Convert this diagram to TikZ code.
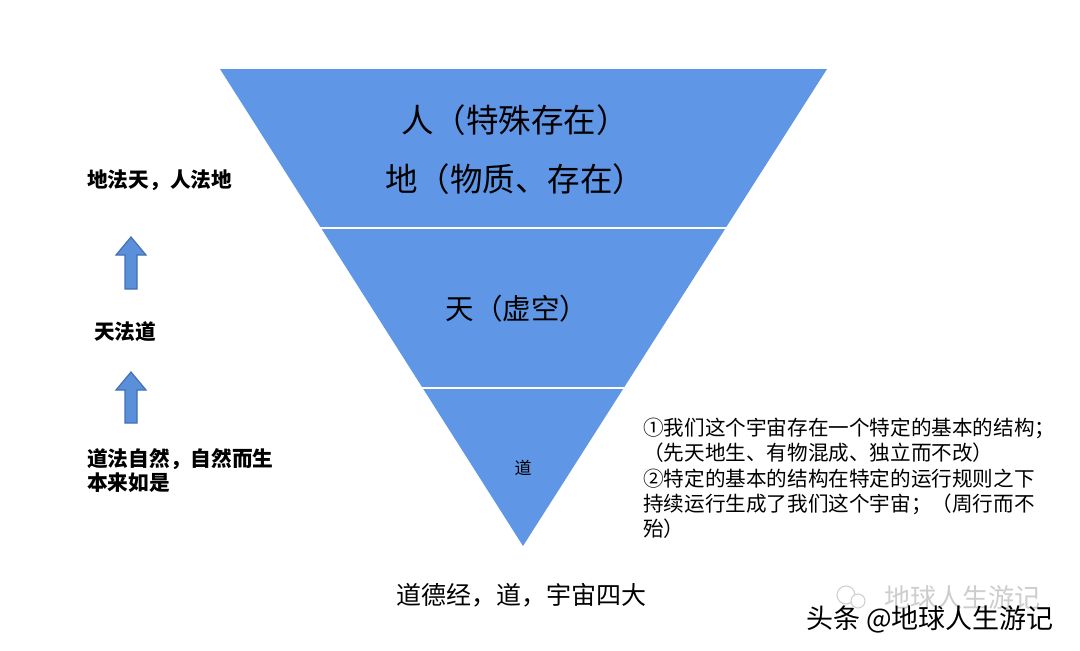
\documentclass[tikz,border=0pt]{standalone}
\usepackage{fontspec}
\setmainfont{Noto Sans CJK SC}
\newfontfamily\cjk{Noto Sans CJK SC}
\definecolor{tri}{RGB}{96,150,230}
\definecolor{arrfill}{RGB}{91,143,218}
\definecolor{arrline}{RGB}{65,113,180}
\definecolor{wmgray}{RGB}{205,205,205}
\begin{document}
\begin{tikzpicture}[x=1pt,y=-1pt,
  lbl/.style={inner sep=0pt,font=\cjk},
  side/.style={inner sep=0pt,anchor=west,font=\cjk\bfseries\fontsize{20.7}{24}\selectfont},
  note/.style={inner sep=0pt,anchor=north west,align=left,font=\cjk\fontsize{20.6}{25.3}\selectfont},
  uparrow/.style={fill=arrfill,draw=arrline,line width=1.2pt,line join=miter}]
\useasboundingbox (0,0) rectangle (1080,651);
\fill[white] (0,0) rectangle (1080,651);
% inverted triangle
\fill[tri] (220,69) -- (827,69) -- (523,546) -- cycle;
\draw[white,line width=2.2pt] (310,228) -- (740,228);
\draw[white,line width=2.2pt] (410,388) -- (640,388);
% labels in triangle
\node[lbl,font=\cjk\fontsize{32.5}{36}\selectfont] (ren) at (515,120) {人（特殊存在）};
\node[lbl,font=\cjk\fontsize{32.5}{36}\selectfont] (di) at (515,179) {地（物质、存在）};
\node[lbl,font=\cjk\fontsize{28.5}{32}\selectfont] (tian) at (517,309) {天（虚空）};
\node[lbl,font=\cjk\fontsize{17}{20}\selectfont] (dao) at (523,468) {道};
% left column
\node[side] (l1) at (87,180) {地法天，人法地};
\node[side] (l2) at (94,332) {天法道};
\node[side,anchor=north west,align=left] (l3) at (87,448) {道法自然，自然而生\\本来如是};
% arrows
\draw[uparrow] (125,289) -- (125,255) -- (116,255) -- (131,237) -- (146,255) -- (137,255) -- (137,289) -- cycle;
\draw[uparrow] (125,423) -- (125,390) -- (116,390) -- (131,372) -- (146,390) -- (137,390) -- (137,423) -- cycle;
% right note
\node[note] (n1) at (643,418) {①我们这个宇宙存在一个特定的基本的结构；\\（先天地生、有物混成、独立而不改）\\②特定的基本的结构在特定的运行规则之下\\持续运行生成了我们这个宇宙；（周行而不\\殆）};
% bottom caption
\node[lbl,anchor=west,font=\cjk\fontsize{25}{28}\selectfont] (cap) at (396,595) {道德经，道，宇宙四大};
% watermark
\node[lbl,anchor=west,text=wmgray,font=\cjk\fontsize{26}{30}\selectfont] (wm2) at (884,598) {地球人生游记};
\draw[wmgray,line width=1pt] (846,595) circle (9);
\draw[wmgray,line width=1pt,fill=white] (858,601) circle (7);
\node[lbl,anchor=west,font=\cjk\fontsize{27}{30}\selectfont] (wm1) at (806,619) {头条 @地球人生游记};
\end{tikzpicture}
\end{document}
